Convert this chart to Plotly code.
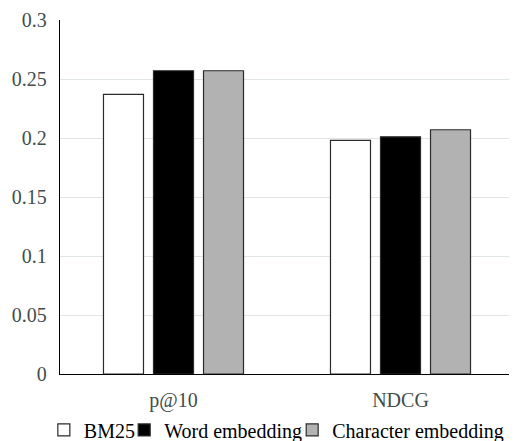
import plotly.graph_objects as go

categories = ["p@10", "NDCG"]
series_names = ["BM25", "Word embedding", "Character embedding"]
bm25 = [0.237, 0.198]
word_emb = [0.257, 0.201]
char_emb = [0.257, 0.207]
y_ticks = [0, 0.05, 0.1, 0.15, 0.2, 0.25, 0.3]
y_tick_labels = ["0", "0.05", "0.1", "0.15", "0.2", "0.25", "0.3"]

colors = ["#ffffff", "#000000", "#b2b2b2"]
font_family = "Liberation Serif, Times New Roman, serif"
legend_ids = ["legend", "legend2", "legend3"]
legend_x = [-0.0356, 0.1414, 0.5114]

fig = go.Figure()
for name, vals, col, lid in zip(series_names, [bm25, word_emb, char_emb], colors, legend_ids):
    fig.add_trace(go.Bar(
        name=name, x=categories, y=vals, legend=lid,
        marker=dict(color=col, line=dict(color="#2b2b2b", width=1.2)),
    ))

legend_common = dict(
    orientation="h", xanchor="left", y=-0.158, yanchor="middle",
    font=dict(family=font_family, size=20, color="#000000"),
    itemwidth=30, bgcolor="rgba(0,0,0,0)", borderwidth=0,
)
layout_legends = {lid: dict(legend_common, x=lx) for lid, lx in zip(legend_ids, legend_x)}

# the page body adds an 8px offset, so the figure is sized to fit the window
fig.update_layout(
    width=509, height=433,
    margin=dict(l=52, r=3, t=12, b=67, autoexpand=False),
    paper_bgcolor="white", plot_bgcolor="white",
    barmode="group", bargap=0.339, bargroupgap=0.2,
    font=dict(family=font_family, size=20, color="#3f4d4d"),
    showlegend=True,
    **layout_legends,
)
fig.update_xaxes(
    showline=True, linecolor="#000000", linewidth=1.3,
    showgrid=False, ticks="", ticklabelstandoff=8,
    tickfont=dict(family=font_family, size=20, color="#3f4d4d"),
)
fig.update_yaxes(
    range=[0, 0.3], tickvals=y_ticks, ticktext=y_tick_labels,
    showline=True, linecolor="#000000", linewidth=1.3,
    showgrid=True, gridcolor="#dfe5e5", gridwidth=1,
    zeroline=False, ticks="", ticklabelstandoff=8,
    tickfont=dict(family=font_family, size=20, color="#3f4d4d"),
)

fig.write_html("out.html")
